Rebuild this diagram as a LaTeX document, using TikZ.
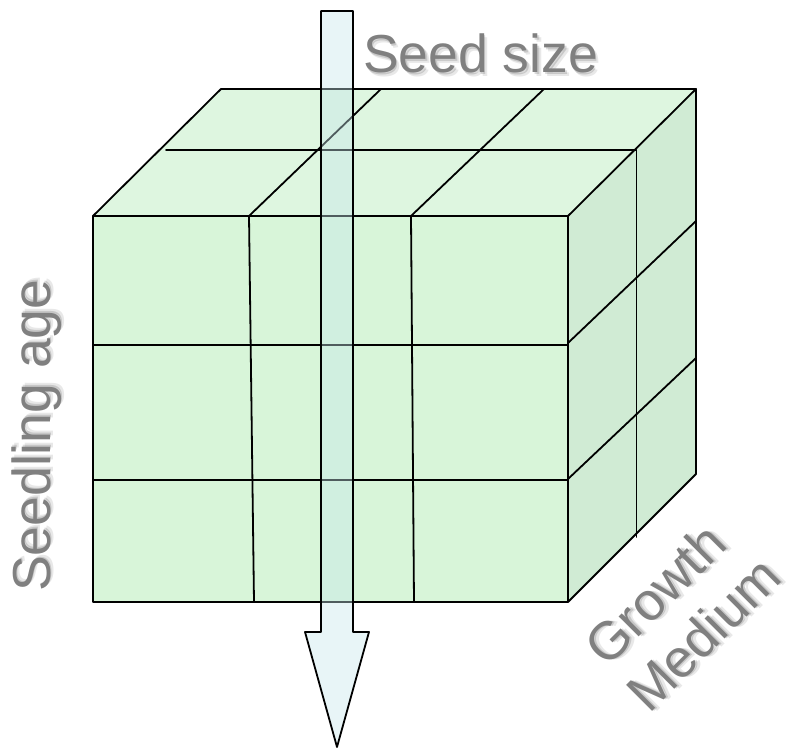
\documentclass[tikz,border=0pt]{standalone}
\usepackage{fontspec}
\setmainfont{Liberation Sans}
\definecolor{frontc}{RGB}{216,245,217}
\definecolor{topc}{RGB}{222,246,224}
\definecolor{rightc}{RGB}{208,235,212}
\definecolor{arrowc}{RGB}{198,230,236}
\definecolor{labgray}{RGB}{128,128,128}
\newcommand\shtext[4]{%
  \node[shd,#3,xshift=1.5pt,yshift=-1.5pt,opacity=0.14] (#1s1) at #2 {#4};
  \node[shd,#3,xshift=3.5pt,yshift=-3.5pt,opacity=0.09] (#1s2) at #2 {#4};
  \node[lbl,#3] (#1) at #2 {#4};}
\begin{document}
\begin{tikzpicture}[x=1pt,y=-1pt,
  edge/.style={line width=1.8pt, line join=round, line cap=round},
  lbl/.style={text=labgray, font=\fontsize{53.5}{60}\selectfont, inner sep=0pt},
  shd/.style={text=black, font=\fontsize{53.5}{60}\selectfont, inner sep=0pt}]
\useasboundingbox (0,0) rectangle (790,751);
% corners
\coordinate (F1) at (93,216);
\coordinate (F2) at (568,216);
\coordinate (F3) at (568,602);
\coordinate (F4) at (93,602);
\coordinate (B1) at (221,89);
\coordinate (B2) at (696,89);
\coordinate (B3) at (696,474);
% faces
\fill[frontc] (F1) -- (F2) -- (F3) -- (F4) -- cycle;
\fill[topc] (F1) -- (B1) -- (B2) -- (F2) -- cycle;
\fill[rightc] (F2) -- (B2) -- (B3) -- (F3) -- cycle;
% grid on front face
\draw[edge] (249,216) -- (254,602);
\draw[edge] (411,216) -- (414,602);
\draw[edge] (93,345) -- (568,345);
\draw[edge] (93,480) -- (568,480);
% grid on top face
\draw[edge] (166,150) -- (636,150);
\draw[edge] (249,216) -- (381,89);
\draw[edge] (411,216) -- (544,89);
% grid on right face
\draw[edge] (636.5,150) -- (636.5,537);
\draw[edge] (568,343) -- (696,221);
\draw[edge] (568,479) -- (696,358);
% outlines
\draw[edge] (F1) -- (F2) -- (F3) -- (F4) -- cycle;
\draw[edge] (F1) -- (B1) -- (B2) -- (F2);
\draw[edge] (B2) -- (B3) -- (F3);
% arrow
\draw[edge, line cap=butt, fill=arrowc, fill opacity=0.4]
  (321,11) -- (353,11) -- (353,632) -- (369,632) -- (337,747)
  -- (305,632) -- (321,632) -- cycle;
% labels
\shtext{seed}{(363,73)}{anchor=base west}{Seed size}
\shtext{age}{(50,592)}{anchor=base west,rotate=90}{Seedling age}
\shtext{growth}{(655,594)}{anchor=center,rotate=45}{Growth}
\shtext{medium}{(703,634)}{anchor=center,rotate=45}{Medium}
\end{tikzpicture}
\end{document}
